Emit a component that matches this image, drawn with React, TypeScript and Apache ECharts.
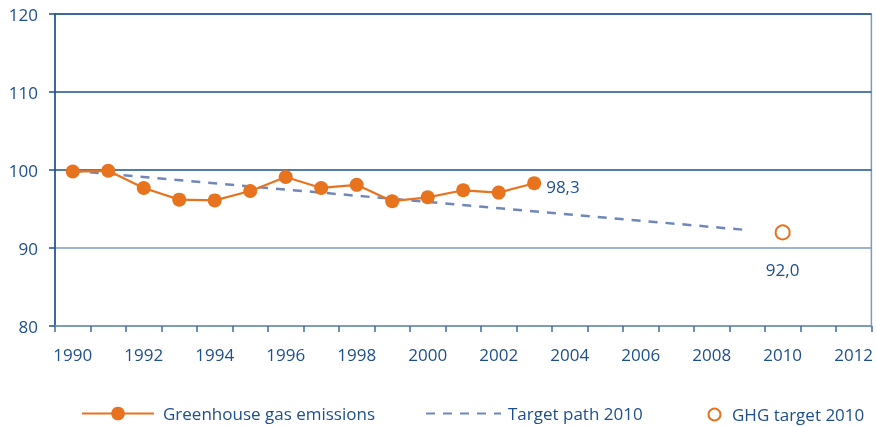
import React, { useEffect, useRef } from "react";
import * as echarts from "echarts";

const years = ["1990","1991","1992","1993","1994","1995","1996","1997","1998","1999","2000","2001","2002","2003","2004","2005","2006","2007","2008","2009","2010","2011","2012"];
const emissions: (number | null)[] = [99.8, 99.9, 97.7, 96.2, 96.1, 97.3, 99.1, 97.7, 98.1, 96.0, 96.5, 97.4, 97.1, 98.3];
const targetPath: (number | null)[] = [99.9, null, null, null, null, null, null, null, null, null, null, null, null, null, null, null, null, null, null, 92.3];
const ghgTarget: (number | null)[] = [null, null, null, null, null, null, null, null, null, null, null, null, null, null, null, null, null, null, null, null, 92.0];

const NAVY = "#1d4f8c";
const LIGHT = "#7d9bbd";
const ORANGE = "#e8731f";
const DASH = "#6f87b9";
const FONT = "Open Sans";

const fmt = (v: number) => v.toFixed(1).replace(".", ",");

export default function App() {
  const ref = useRef<HTMLDivElement>(null);
  useEffect(() => {
    if (!ref.current) return;
    const chart = echarts.init(ref.current, undefined, { renderer: "svg" });
    const lastIdx = emissions.length - 1;
    chart.setOption({
      animation: false,
      textStyle: { fontFamily: FONT },
      grid: { left: 55, right: 1, top: 14, bottom: 101, show: true, borderColor: LIGHT, borderWidth: 1.5 },
      xAxis: {
        type: "category",
        data: years,
        boundaryGap: true,
        axisLine: { lineStyle: { color: LIGHT, width: 2 } },
        axisTick: { show: true, interval: 0, length: 6, lineStyle: { color: "#3f68a0", width: 1.5 } },
        axisLabel: { interval: 1, fontSize: 17, color: NAVY, fontFamily: FONT, margin: 20 },
        splitLine: { show: false },
      },
      yAxis: {
        type: "value",
        min: 80,
        max: 120,
        interval: 10,
        axisLine: { show: true, lineStyle: { color: NAVY, width: 1.5 } },
        axisTick: { show: true, length: 6, lineStyle: { color: NAVY, width: 1.5 } },
        axisLabel: { fontSize: 17, color: NAVY, fontFamily: FONT, margin: 17 },
        splitLine: { show: true, lineStyle: { color: [LIGHT, LIGHT, NAVY, NAVY, NAVY], width: 1.5 } },
      },
      legend: [
        {
          left: 81, top: 405, padding: 0, itemWidth: 72, itemHeight: 17,
          data: ["Greenhouse gas emissions"],
          textStyle: { fontSize: 17, color: NAVY, fontFamily: FONT, padding: [0, 0, 0, 4] },
        },
        {
          left: 425, top: 405, padding: 0, itemWidth: 75, itemHeight: 17,
          data: [{ name: "Target path 2010", itemStyle: { color: "rgba(0,0,0,0)", borderWidth: 0, opacity: 0 } }],
          textStyle: { fontSize: 17, color: NAVY, fontFamily: FONT, padding: [0, 0, 0, 2] },
        },
        {
          left: 707, top: 406, padding: 0, itemWidth: 15, itemHeight: 15,
          data: ["GHG target 2010"],
          textStyle: { fontSize: 17, color: NAVY, fontFamily: FONT, padding: [0, 0, 0, 5] },
        },
      ],
      series: [
        {
          name: "Target path 2010",
          type: "line",
          data: targetPath,
          connectNulls: true,
          symbol: "none",
          lineStyle: { color: DASH, width: 2.5, type: [9, 8] },
          itemStyle: { color: DASH },
          z: 2,
        },
        {
          name: "Greenhouse gas emissions",
          type: "line",
          data: emissions.map((v, i) =>
            i === lastIdx
              ? { value: v, label: { show: true, position: "right", distance: 5, offset: [0, 3], formatter: (p: any) => fmt(p.value), fontSize: 17, color: NAVY, fontFamily: FONT } }
              : v
          ),
          symbol: "circle",
          symbolSize: 14,
          lineStyle: { color: ORANGE, width: 2.2 },
          itemStyle: { color: ORANGE },
          z: 3,
        },
        {
          name: "GHG target 2010",
          type: "line",
          data: ghgTarget.map((v) =>
            v === null ? null : { value: v, label: { show: true, position: "bottom", distance: 21, formatter: (p: any) => fmt(p.value), fontSize: 17, color: NAVY, fontFamily: FONT } }
          ),
          symbol: "emptyCircle",
          symbolSize: 14,
          showSymbol: true,
          lineStyle: { width: 0 },
          itemStyle: { color: ORANGE, borderColor: ORANGE, borderWidth: 2 },
          z: 3,
        },
      ],
    });
    return () => chart.dispose();
  }, []);
  return <div ref={ref} style={{ position: "fixed", left: 0, top: 0, width: 876, height: 427 }} />;
}
